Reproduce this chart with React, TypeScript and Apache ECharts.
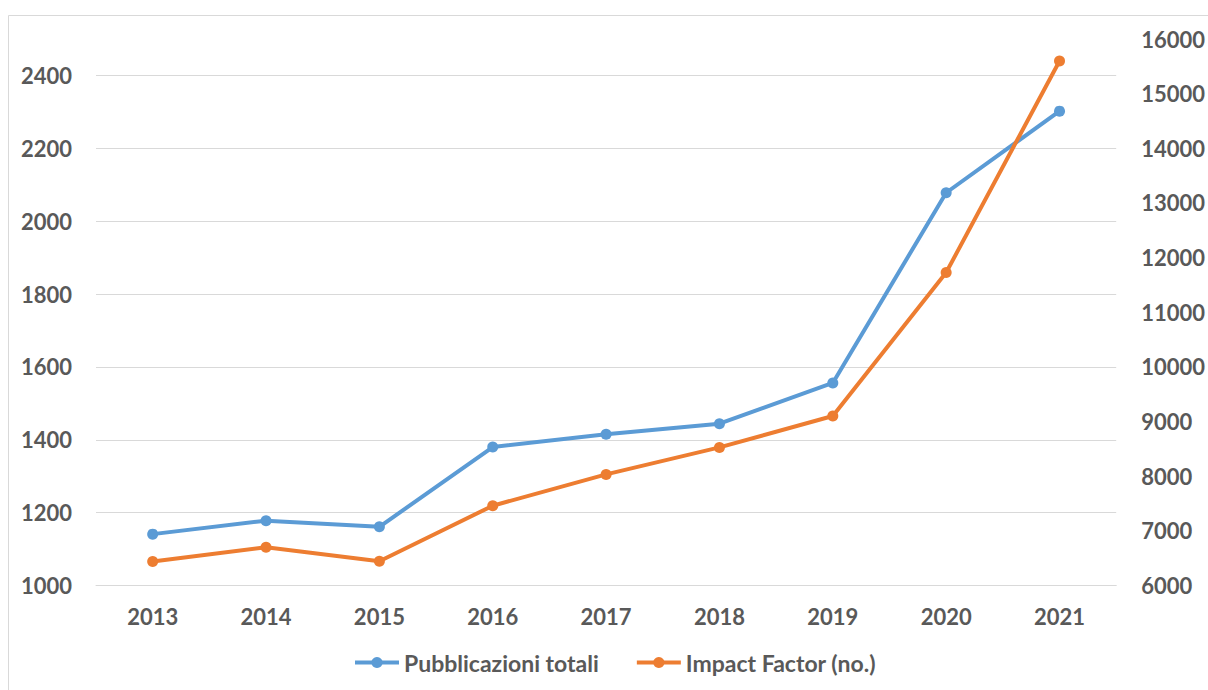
import React, { useEffect, useRef } from "react";
import * as echarts from "echarts";

const years = ["2013", "2014", "2015", "2016", "2017", "2018", "2019", "2020", "2021"];
const pubblicazioni = [1141, 1178, 1161, 1380, 1415, 1444, 1556, 2078, 2302];
const impactFactor = [6440, 6701, 6445, 7460, 8033, 8527, 9101, 11727, 15597];
const seriesNames = ["Pubblicazioni totali", "Impact Factor (no.)"];

const TEXT = "#595959";
const FONT = "Lato";

export default function App() {
  const ref = useRef<HTMLDivElement>(null);
  useEffect(() => {
    if (!ref.current) return;
    const chart = echarts.init(ref.current, undefined, { renderer: "svg" });
    const label = { color: TEXT, fontWeight: "bold" as const, fontSize: 22, fontFamily: FONT };
    const plain = (v: number) => String(v);
    chart.setOption({
      animation: false,
      backgroundColor: "#ffffff",
      graphic: [
        {
          type: "rect",
          shape: { x: 8.5, y: 15.5, width: 1220, height: 700 },
          style: { fill: "none", stroke: "#d9d9d9", lineWidth: 1 },
          silent: true,
        },
      ],
      grid: { left: 96, right: 90, top: 39, bottom: 104.5, containLabel: false },
      legend: {
        left: 348,
        top: 646,
        itemWidth: 44,
        itemHeight: 14,
        itemGap: 36,
        textStyle: { ...label, fontSize: 23 },
        lineStyle: { width: 4 },
        data: seriesNames,
      },
      xAxis: {
        type: "category",
        data: years,
        boundaryGap: true,
        axisLine: { show: true, lineStyle: { color: "#d9d9d9", width: 1 } },
        axisTick: { show: false },
        axisLabel: { ...label, margin: 20 },
        splitLine: { show: false },
      },
      yAxis: [
        {
          type: "value",
          min: 1000,
          max: 2500,
          interval: 200,
          axisLine: { show: false },
          axisTick: { show: false },
          axisLabel: { ...label, margin: 24, showMaxLabel: false, formatter: plain },
          splitLine: { show: true, showMaxLine: false, lineStyle: { color: "#d9d9d9", width: 1 } },
        },
        {
          type: "value",
          position: "right",
          min: 6000,
          max: 16000,
          interval: 1000,
          axisLine: { show: false },
          axisTick: { show: false },
          axisLabel: { ...label, margin: 25, formatter: plain },
          splitLine: { show: false },
        },
      ],
      series: [
        {
          name: seriesNames[0],
          type: "line",
          yAxisIndex: 0,
          data: pubblicazioni,
          symbol: "circle",
          symbolSize: 11,
          color: "#5B9BD5",
          lineStyle: { width: 4, color: "#5B9BD5" },
          itemStyle: { color: "#5B9BD5" },
        },
        {
          name: seriesNames[1],
          type: "line",
          yAxisIndex: 1,
          data: impactFactor,
          symbol: "circle",
          symbolSize: 11,
          color: "#ED7D31",
          lineStyle: { width: 4, color: "#ED7D31" },
          itemStyle: { color: "#ED7D31" },
        },
      ],
    });
    return () => chart.dispose();
  }, []);
  return (
    <div
      ref={ref}
      style={{ position: "fixed", left: 0, top: 0, width: 1208, height: 690 }}
    />
  );
}
